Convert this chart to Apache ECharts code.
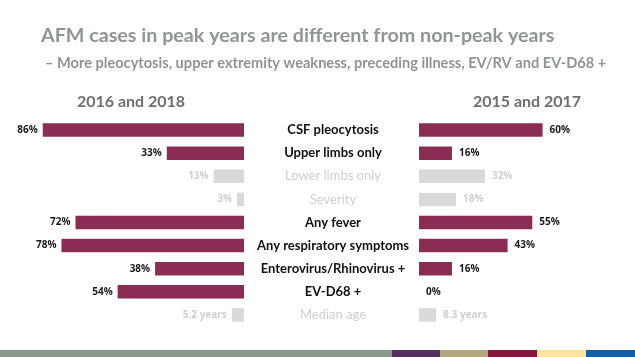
<!DOCTYPE html>
<html><head><meta charset="utf-8">
<script src="https://cdn.jsdelivr.net/npm/echarts@6/dist/echarts.min.js"></script>
<style>html,body{margin:0;padding:0;background:#fff}#c{width:635px;height:357px}</style>
</head><body><div id="c"></div>
<script>
const categories = ['CSF pleocytosis','Upper limbs only','Lower limbs only','Severity','Any fever','Any respiratory symptoms','Enterovirus/Rhinovirus +','EV-D68 +','Median age'];
const peakValues = [86,33,13,3,72,78,38,54,5.2];
const nonPeakValues = [60,16,32,18,55,43,16,0,8.3];
const highlighted = [true,true,false,false,true,true,true,true,false];
const units = ['%','%','%','%','%','%','%','%',' years'];
const peakTitle = '2016 and 2018';
const nonPeakTitle = '2015 and 2017';

const MAROON = '#8B2C55', GRAY = '#D9D9D9', GRAYTXT = '#CFCFCF';
const FONT = 'Lato';

function items(vals){
  return vals.map((v,i)=>({
    value: v,
    itemStyle:{color: highlighted[i]?MAROON:GRAY},
    label:{color: highlighted[i]?'#1a1a1a':GRAYTXT}
  }));
}
const chart = echarts.init(document.getElementById('c'));
chart.setOption({
  animation:false,
  textStyle:{fontFamily:FONT},
  title:[
    {text:'AFM cases in peak years are different from non-peak years',left:36,top:21,
     textStyle:{fontFamily:FONT,fontSize:19.7,fontWeight:'bold',color:'#8E9692'}},
    {text:'\u2013 More pleocytosis, upper extremity weakness, preceding illness, EV/RV and EV-D68 +',left:40,top:51,
     textStyle:{fontFamily:FONT,fontSize:14.6,fontWeight:'bold',color:'#8E9692'}},
    {text:peakTitle,left:126,top:89,textAlign:'center',
     textStyle:{fontFamily:FONT,fontSize:16,fontWeight:'bold',color:'#6E6E6E'}},
    {text:nonPeakTitle,left:522,top:89,textAlign:'center',
     textStyle:{fontFamily:FONT,fontSize:16,fontWeight:'bold',color:'#6E6E6E'}}
  ],
  grid:[
    {left:10,width:234,top:118.5,height:208},
    {left:419,width:206,top:118.5,height:208}
  ],
  xAxis:[
    {type:'value',gridIndex:0,min:0,max:100,inverse:true,show:false},
    {type:'value',gridIndex:1,min:0,max:100,show:false}
  ],
  yAxis:[
    {type:'category',gridIndex:0,data:categories,inverse:true,show:false},
    {type:'category',gridIndex:1,data:categories,inverse:true,
     axisLine:{show:false},axisTick:{show:false},
     axisLabel:{margin:86,align:'center',fontFamily:FONT,fontSize:13,
       formatter:(v,i)=> highlighted[i]?'{a|'+v+'}':'{b|'+v+'}',
       rich:{a:{fontFamily:FONT,fontSize:13,fontWeight:'bold',color:'#111'},
             b:{fontFamily:FONT,fontSize:13,color:GRAYTXT}}}}
  ],
  series:[
    {type:'bar',xAxisIndex:0,yAxisIndex:0,data:items(peakValues),barWidth:13.5,
     label:{show:true,position:'left',distance:5,fontSize:10,fontWeight:'bold',fontFamily:'Open Sans',
       formatter:p=>p.value+units[p.dataIndex]}},
    {type:'bar',xAxisIndex:1,yAxisIndex:1,data:items(nonPeakValues),barWidth:13.5,
     label:{show:true,position:'right',distance:7,fontSize:10,fontWeight:'bold',fontFamily:'Open Sans',
       formatter:p=>p.value+units[p.dataIndex]}}
  ],
  graphic:[
    {type:'rect',shape:{x:0,y:350,width:392,height:7},style:{fill:'#8A9A8D'}},
    {type:'rect',shape:{x:392,y:350,width:48,height:7},style:{fill:'#52305F'}},
    {type:'rect',shape:{x:440,y:350,width:48,height:7},style:{fill:'#B3A77F'}},
    {type:'rect',shape:{x:488,y:350,width:49,height:7},style:{fill:'#88173F'}},
    {type:'rect',shape:{x:537,y:350,width:49,height:7},style:{fill:'#FDE49E'}},
    {type:'rect',shape:{x:586,y:350,width:49,height:7},style:{fill:'#1460A8'}}
  ]
});
</script></body></html>
